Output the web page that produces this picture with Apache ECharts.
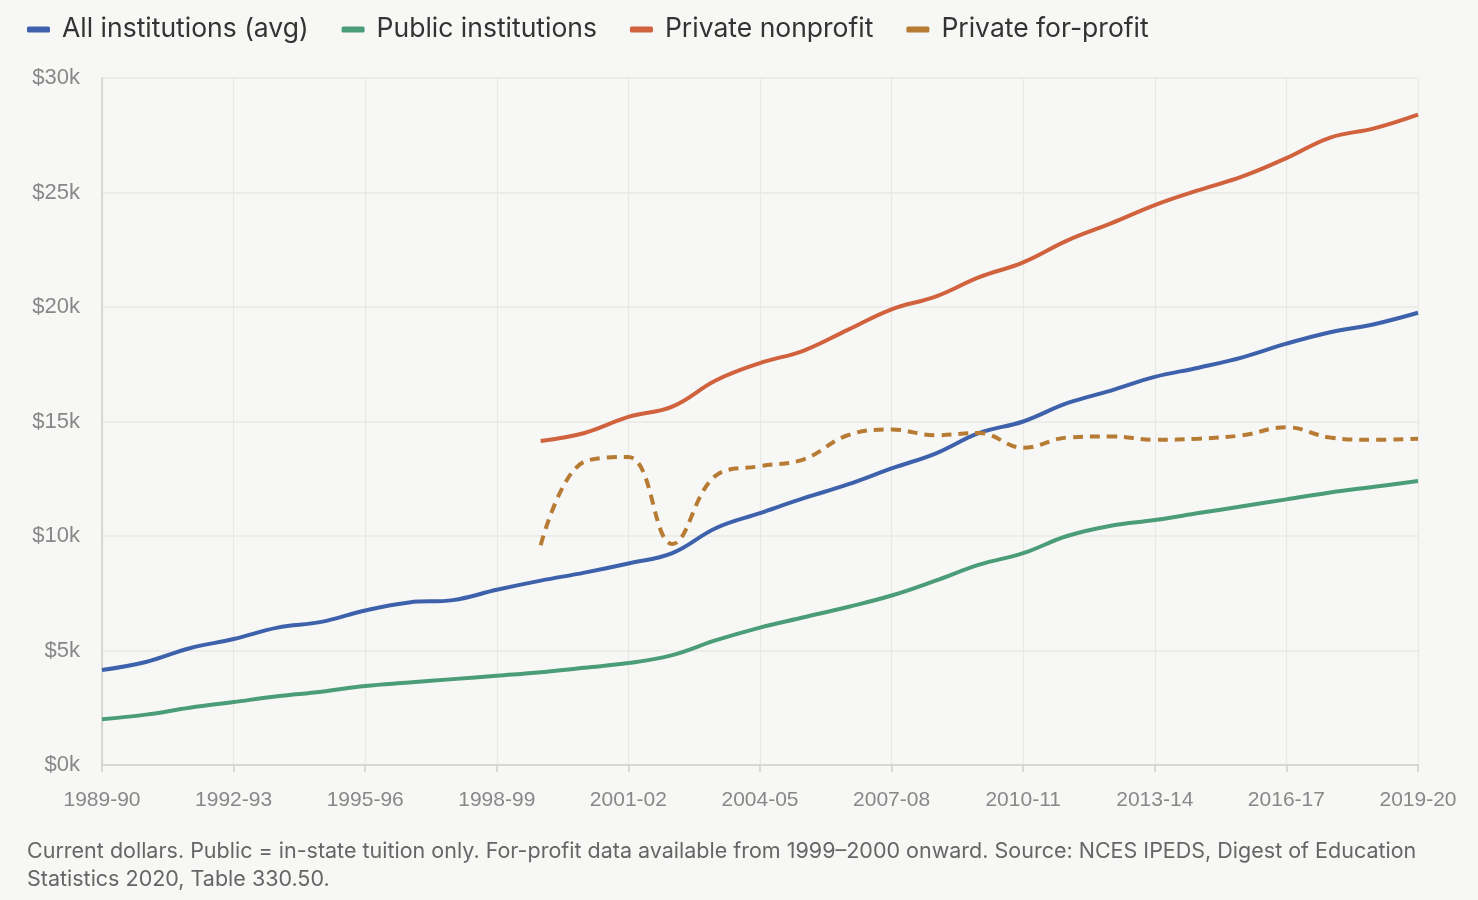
<!DOCTYPE html>
<html><head><meta charset="utf-8">
<script src="https://cdn.jsdelivr.net/npm/echarts@6/dist/echarts.min.js"></script>
<style>html,body{margin:0;padding:0;background:#f7f7f5;}#c{width:1478px;height:900px;}</style>
</head><body><div id="c"></div>
<script>
const years = ['1989-90','1990-91','1991-92','1992-93','1993-94','1994-95','1995-96','1996-97','1997-98','1998-99','1999-00','2000-01','2001-02','2002-03','2003-04','2004-05','2005-06','2006-07','2007-08','2008-09','2009-10','2010-11','2011-12','2012-13','2013-14','2014-15','2015-16','2016-17','2017-18','2018-19','2019-20'];
const allInst = [4150,4500,5100,5500,6000,6250,6750,7100,7200,7650,8050,8400,8800,9250,10350,11000,11650,12250,12950,13600,14500,15000,15800,16350,16950,17350,17800,18400,18900,19250,19750];
const publicInst = [2000,2200,2500,2750,3000,3200,3450,3600,3750,3900,4050,4250,4450,4800,5450,6000,6450,6900,7400,8050,8750,9250,10000,10450,10700,11000,11300,11600,11900,12150,12400];
const privNonprofit = [null,null,null,null,null,null,null,null,null,null,14150,14500,15200,15650,16800,17550,18100,19000,19900,20450,21300,21950,22900,23650,24450,25100,25700,26500,27400,27800,28400];
const privForProfit = [null,null,null,null,null,null,null,null,null,null,9600,13250,13450,9650,12650,13050,13350,14400,14650,14400,14500,13850,14300,14350,14200,14250,14400,14750,14300,14200,14250];
const seriesNames = ['All institutions (avg)','Public institutions','Private nonprofit','Private for-profit'];
const colors = ['#3d62ab','#4b9d79','#d0623d','#b77b34'];
const footnote = 'Current dollars. Public = in-state tuition only. For-profit data available from 1999–2000 onward. Source: NCES IPEDS, Digest of Education\nStatistics 2020, Table 330.50.';

const chart = echarts.init(document.getElementById('c'), null, {renderer:'canvas'});
const dataSets = [allInst, publicInst, privNonprofit, privForProfit];
chart.setOption({
  backgroundColor: '#f7f7f5',
  animation: false,
  color: colors,
  textStyle: {fontFamily: 'Inter, "Noto Sans", sans-serif'},
  legend: {
    left: 22, top: 11,
    itemWidth: 23, itemHeight: 6, itemGap: 33,
    icon: 'roundRect',
    textStyle: {fontSize: 26.5, color: '#333', fontFamily: 'Inter, sans-serif', padding: [0,0,0,7]},
    data: seriesNames
  },
  title: {
    text: footnote, left: 27, top: 838, padding: 0,
    textStyle: {fontSize: 21.5, fontWeight: 'normal', color: '#666', lineHeight: 28, fontFamily: 'Inter, sans-serif'}
  },
  grid: {left: 102, right: 60, top: 78, bottom: 135, containLabel: false},
  xAxis: {
    type: 'category', data: years, boundaryGap: false,
    axisLine: {lineStyle: {color: '#cfcfcf', width: 1.5}},
    axisTick: {show: true, interval: 2, length: 7, lineStyle: {color: '#cfcfcf', width: 1.5}},
    axisLabel: {interval: 2, color: '#888', fontSize: 21, margin: 25, fontFamily: '"Liberation Sans", Arial, sans-serif'},
    splitLine: {show: true, interval: 2, lineStyle: {color: '#e8e8e6', width: 1.2}}
  },
  yAxis: {
    type: 'value', min: 0, max: 30000, interval: 5000,
    axisLine: {show: true, lineStyle: {color: '#cfcfcf', width: 1.5}},
    axisTick: {show: false},
    axisLabel: {color: '#888', fontSize: 22, margin: 22, fontFamily: '"Liberation Sans", Arial, sans-serif',
      formatter: v => '$' + (v/1000) + 'k'},
    splitLine: {lineStyle: {color: '#e8e8e6', width: 1.5}}
  },
  series: seriesNames.map((n, i) => ({
    name: n, type: 'line', data: dataSets[i], smooth: 0.4, showSymbol: false, symbol: 'none',
    connectNulls: false,
    lineStyle: {width: 4, color: colors[i], type: i === 3 ? [10, 7] : 'solid'},
    itemStyle: {color: colors[i]}
  }))
});
</script></body></html>
